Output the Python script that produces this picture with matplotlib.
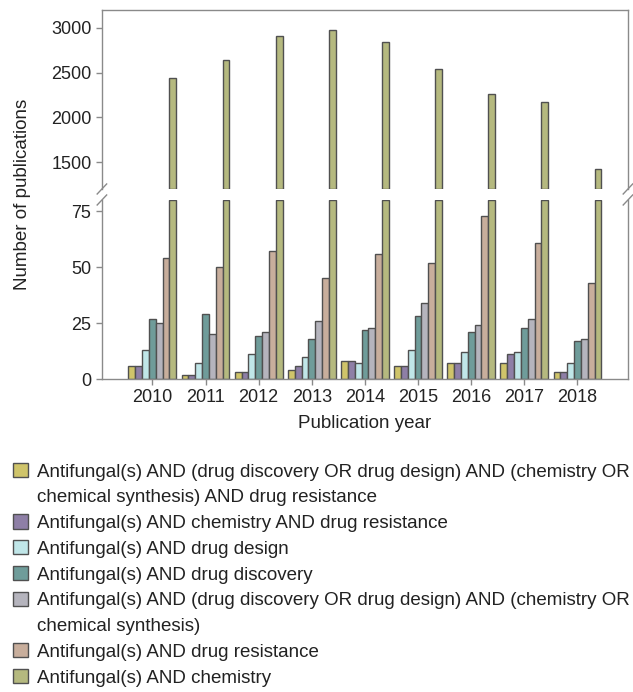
"""Antifungal publication counts by year, broken y-axis bar chart."""
import matplotlib
matplotlib.use("Agg")
import matplotlib.pyplot as plt
from matplotlib.patches import Patch
import numpy as np

plt.rcParams["font.family"] = ["Liberation Sans", "DejaVu Sans"]

YEARS = ["2010", "2011", "2012", "2013", "2014", "2015", "2016", "2017", "2018"]

LABELS = [
    "Antifungal(s) AND (drug discovery OR drug design) AND (chemistry OR\nchemical synthesis) AND drug resistance",
    "Antifungal(s) AND chemistry AND drug resistance",
    "Antifungal(s) AND drug design",
    "Antifungal(s) AND drug discovery",
    "Antifungal(s) AND (drug discovery OR drug design) AND (chemistry OR\nchemical synthesis)",
    "Antifungal(s) AND drug resistance",
    "Antifungal(s) AND chemistry",
]

combo_resist = [6, 2, 3, 4, 8, 6, 7, 7, 3]
chem_resist = [6, 2, 3, 6, 8, 6, 7, 11, 3]
drug_design = [13, 7, 11, 10, 7, 13, 12, 12, 7]
drug_discovery = [27, 29, 19, 18, 22, 28, 21, 23, 17]
combo = [25, 20, 21, 26, 23, 34, 24, 27, 18]
drug_resistance = [54, 50, 57, 45, 56, 52, 73, 61, 43]
chemistry = [2440, 2640, 2915, 2975, 2845, 2540, 2265, 2175, 1420]

SERIES = [combo_resist, chem_resist, drug_design, drug_discovery,
          combo, drug_resistance, chemistry]
COLORS = ["#CFC46A", "#8E7FA6", "#C0E6E8", "#6F9C9A", "#B5B4BD", "#C8AE9C", "#B5B97F"]

LOW = (0, 80)
HIGH = (1200, 3200)
EDGE = "#505050"
SPINE = "#8a8a8a"
TXT = "#222222"

fig = plt.figure(figsize=(6.33, 6.92), dpi=100)
ax_hi = fig.add_axes([0.161, 0.7269, 0.831, 0.2586])
ax_lo = fig.add_axes([0.161, 0.4523, 0.831, 0.2587])

x = np.arange(len(YEARS))
n = len(SERIES)
w = 0.9 / n
handles, labels = [], []
blank = Patch(facecolor="none", edgecolor="none")
for i, (vals, col) in enumerate(zip(SERIES, COLORS)):
    v = np.array(vals, dtype=float)
    pos = x + (i - (n - 1) / 2) * w
    h = ax_lo.bar(pos, np.minimum(v, LOW[1]), w, color=col, edgecolor=EDGE,
                  linewidth=1.0)
    # wrapped labels: continuation line gets an empty handle so the swatch
    # sits next to the first line
    for j, line in enumerate(LABELS[i].split("\n")):
        handles.append(h if j == 0 else blank)
        labels.append(line)
    over = v > HIGH[0]
    if over.any():
        ax_hi.bar(pos[over], v[over] - HIGH[0], w, bottom=HIGH[0], color=col,
                  edgecolor=EDGE, linewidth=1.0)

for ax in (ax_hi, ax_lo):
    ax.set_xlim(-0.95, 8.95)
    for s in ax.spines.values():
        s.set_color(SPINE)
        s.set_linewidth(1.0)
    ax.tick_params(axis="y", colors=SPINE, labelcolor=TXT, labelsize=13,
                   length=4, width=1)

ax_hi.set_ylim(*HIGH)
ax_hi.set_yticks([1500, 2000, 2500, 3000])
ax_hi.spines["bottom"].set_visible(False)
ax_hi.set_xticks([])

ax_lo.set_ylim(*LOW)
ax_lo.set_yticks([0, 25, 50, 75])
ax_lo.spines["top"].set_visible(False)
ax_lo.set_xticks(x)
ax_lo.set_xticklabels(YEARS)
ax_lo.tick_params(axis="x", colors=SPINE, labelcolor=TXT, labelsize=13,
                  length=4, width=1)
ax_lo.set_xlabel("Publication year", fontsize=13.5, color=TXT, labelpad=6)

fig.text(0.035, 0.719, "Number of publications", rotation=90, ha="center",
         va="center", fontsize=13.5, color=TXT)

# break marks
dx, dy = 0.009, 0.028
for ax, y0 in ((ax_hi, 0.0), (ax_lo, 1.0)):
    k = dict(transform=ax.transAxes, color=SPINE, linewidth=1.0, clip_on=False)
    for xc in (0.0, 1.0):
        ax.plot([xc - dx, xc + dx], [y0 - dy, y0 + dy], **k)

leg = fig.legend(handles, labels, loc="upper left", bbox_to_anchor=(0.009, 0.342),
                 frameon=False, fontsize=13.5, handlelength=0.8, handleheight=0.8,
                 handletextpad=0.45, labelspacing=0.43, borderaxespad=0)
for t in leg.get_texts():
    t.set_color(TXT)

fig.savefig("out.png", dpi=100)
